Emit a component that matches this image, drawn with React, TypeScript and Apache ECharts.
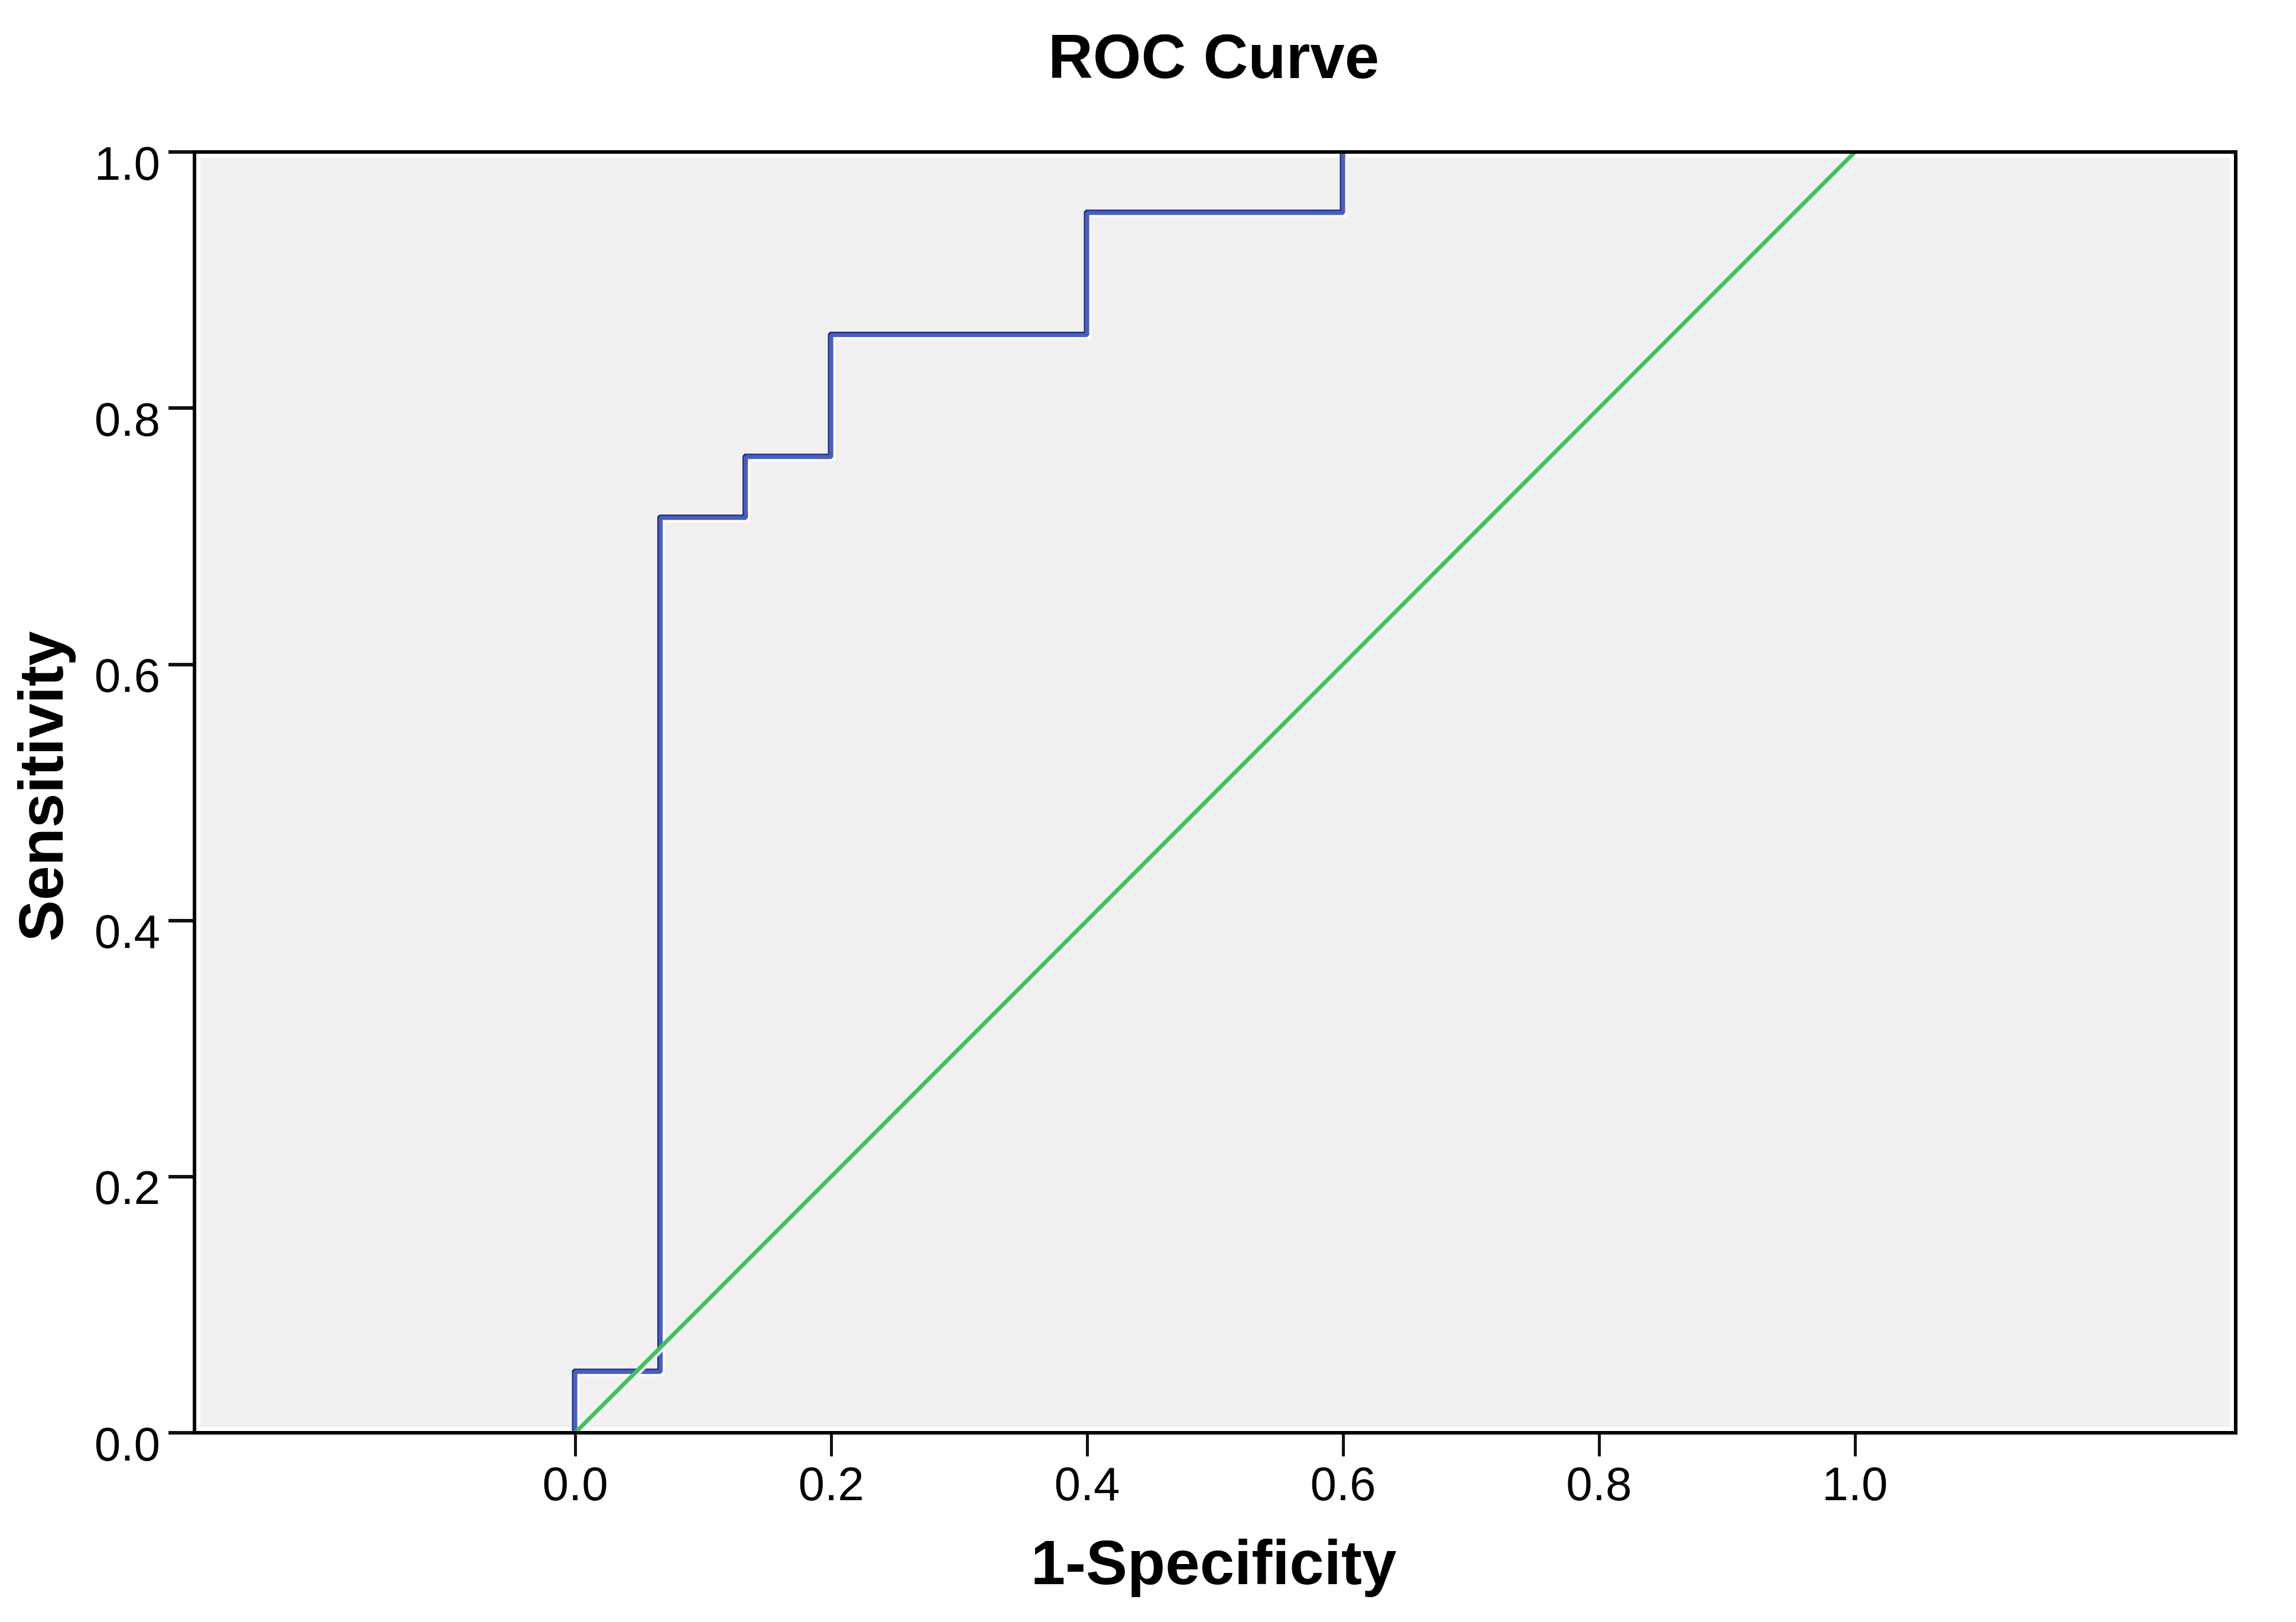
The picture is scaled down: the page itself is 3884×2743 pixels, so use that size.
import React, { useEffect, useRef } from "react";
import * as echarts from "echarts";

// ROC curve (1-Specificity, Sensitivity)
const rocFpr = [0, 0, 0.0667, 0.0667, 0.1333, 0.1333, 0.2, 0.2, 0.4, 0.4, 0.6, 0.6];
const rocTpr = [0, 0.0476, 0.0476, 0.7143, 0.7143, 0.7619, 0.7619, 0.8571, 0.8571, 0.9524, 0.9524, 1.0];
// Reference (chance) line
const refX = [0, 1];
const refY = [0, 1];
// Tick values
const xTicks = [0, 0.2, 0.4, 0.6, 0.8, 1.0];
const yTicks = [0, 0.2, 0.4, 0.6, 0.8, 1.0];

const titleText = "ROC Curve";
const xTitle = "1-Specificity";
const yTitle = "Sensitivity";

const FONT = "'Liberation Sans', Arial, Helvetica, sans-serif";

export default function App() {
  const ref = useRef<HTMLDivElement>(null);

  useEffect(() => {
    if (!ref.current) return;
    const chart = echarts.init(ref.current, undefined, { renderer: "svg" });

    const gridLeft = 321;
    const gridTop = 249;
    const gridW = 3453;
    const gridH = 2166;

    const rocData = rocFpr.map((x, i) => [x, rocTpr[i]]);
    const refData = refX.map((x, i) => [x, refY[i]]);

    const titleStyle = (text: string) => ({
      text,
      fontSize: 105,
      fontWeight: "bold",
      fontFamily: FONT,
      fill: "#000",
      align: "center",
      verticalAlign: "middle",
      textAlign: "center",
      textVerticalAlign: "middle",
    });

    const option: any = {
      animation: false,
      backgroundColor: "#ffffff",
      grid: {
        left: gridLeft,
        top: gridTop,
        width: gridW,
        height: gridH,
        show: true,
        backgroundColor: "rgba(0,0,0,0)",
        borderColor: "#000000",
        borderWidth: 6,
        z: 10,
        containLabel: false,
        outerBoundsMode: "none",
      },
      xAxis: {
        type: "value",
        min: -0.2975,
        max: 1.2975,
        position: "bottom",
        splitLine: { show: false },
        axisLine: { show: true, onZero: false, lineStyle: { color: "#000", width: 6 } },
        axisTick: {
          show: true,
          customValues: xTicks,
          length: 40,
          lineStyle: { color: "#111", width: 5 },
        },
        axisLabel: {
          show: true,
          customValues: xTicks,
          formatter: (v: number) => v.toFixed(1),
          fontSize: 80,
          fontFamily: FONT,
          color: "#000",
          margin: 46,
        },
      },
      yAxis: {
        type: "value",
        min: 0,
        max: 1,
        interval: 0.2,
        splitLine: { show: false },
        axisLine: { show: true, onZero: false, lineStyle: { color: "#000", width: 6 } },
        axisTick: {
          show: true,
          length: 44,
          lineStyle: { color: "#111", width: 6 },
        },
        axisLabel: {
          show: true,
          formatter: (v: number) => v.toFixed(1),
          fontSize: 80,
          fontFamily: FONT,
          color: "#000",
          margin: 58,
          verticalAlign: "top",
          lineHeight: 38,
        },
      },
      graphic: {
        elements: [
          {
            type: "rect",
            z: -10,
            silent: true,
            shape: { x: gridLeft, y: gridTop, width: gridW, height: gridH },
            style: { fill: "#f0f0f0", stroke: "#ffffff", lineWidth: 20 },
          },
          { type: "text", x: 2045, y: 87, style: titleStyle(titleText) },
          { type: "text", x: 2045, y: 2634, style: titleStyle(xTitle) },
          { type: "text", x: 61, y: 1322, rotation: Math.PI / 2, style: titleStyle(yTitle) },
        ],
      },
      series: [
        {
          type: "line",
          data: rocData,
          showSymbol: false,
          symbol: "none",
          silent: true,
          z: 2,
          lineStyle: {
            color: "#f0f0f0",
            width: 7,
            shadowColor: "#ffffff",
            shadowOffsetX: 4,
            shadowOffsetY: 4,
            shadowBlur: 0,
          },
        },
        {
          type: "line",
          data: rocData,
          showSymbol: false,
          symbol: "none",
          silent: true,
          z: 3,
          lineStyle: {
            color: "#4a5ec0",
            width: 7,
            shadowColor: "#17207a",
            shadowOffsetX: -2,
            shadowOffsetY: -2,
            shadowBlur: 0,
          },
        },
        {
          type: "line",
          data: refData,
          showSymbol: false,
          symbol: "none",
          silent: true,
          z: 4,
          lineStyle: {
            color: "#3ec35a",
            width: 7,
            shadowColor: "rgba(255,255,255,0.9)",
            shadowOffsetX: 3,
            shadowOffsetY: 3,
            shadowBlur: 0,
          },
        },
      ],
    };

    chart.setOption(option);
    return () => {
      chart.dispose();
    };
  }, []);

  return <div ref={ref} style={{ width: 3868, height: 2727 }} />;
}
